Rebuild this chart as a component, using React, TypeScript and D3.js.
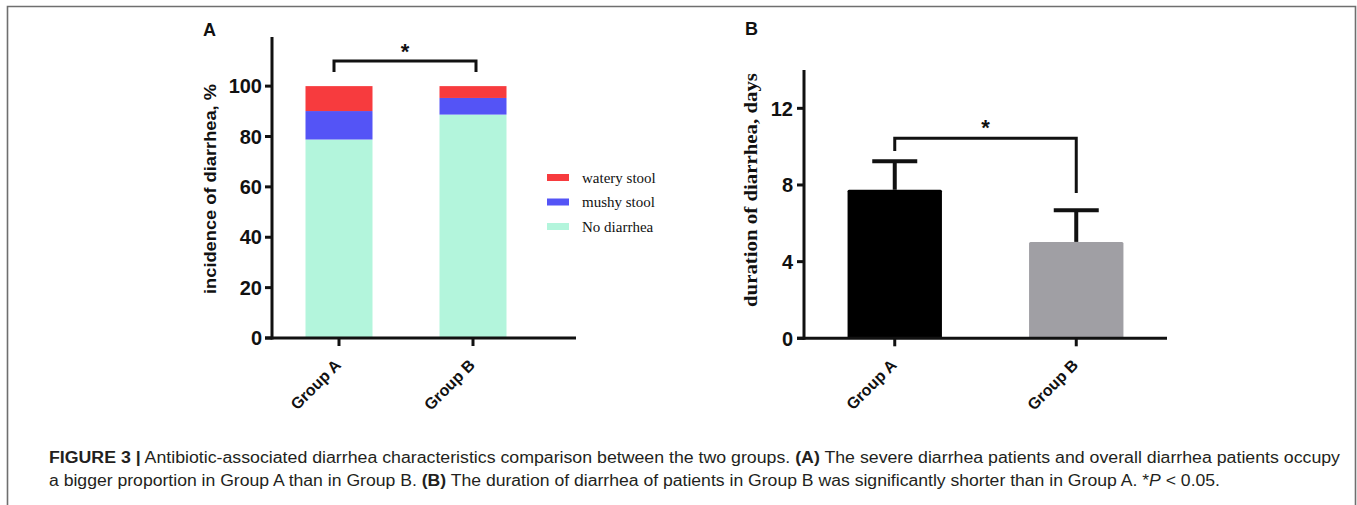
import React from 'react';
import * as d3 from 'd3';

// panel A: incidence of diarrhea (%), stacked
const groups = ['Group A', 'Group B'];
const noDiarrhea = [78.8, 88.7];
const mushyStool = [11.3, 6.6];
const wateryStool = [9.9, 4.7];
const incidenceTicks = [0, 20, 40, 60, 80, 100];

// panel B: duration of diarrhea (days), mean + SD
const durationMean = [7.75, 5.03];
const durationSD = [1.49, 1.65];
const durationTicks = [0, 4, 8, 12];

const legendItems = [
  { key: 'watery', label: 'watery stool', color: '#f73b3e' },
  { key: 'mushy', label: 'mushy stool', color: '#5454f6' },
  { key: 'none', label: 'No diarrhea', color: '#b3f5dc' },
];
const barColorsB = ['#000000', '#a09fa4'];

const SANS = '"Liberation Sans", Arial, Helvetica, sans-serif';
const SERIF = '"Liberation Serif", "Times New Roman", serif';

export default function App() {
  const W = 1357;
  const H = 505;

  const xA = d3.scaleBand().domain(groups).range([272, 540]).paddingInner(0.5).paddingOuter(0.25);
  const yA = d3.scaleLinear().domain([0, 119.5]).range([338, 37]);
  const xB = d3.scaleBand().domain(groups).range([804, 1167]).paddingInner(0.48).paddingOuter(0.24);
  const yB = d3.scaleLinear().domain([0, 14]).range([338.3, 70]);

  const rows = groups.map((g, i) => ({
    group: g,
    none: noDiarrhea[i],
    mushy: mushyStool[i],
    watery: wateryStool[i],
  }));
  const series = d3.stack<any>().keys(['none', 'mushy', 'watery'])(rows);
  const colorOf = (k: string) => legendItems.find(l => l.key === k)!.color;

  const cA = (g: string) => xA(g)! + xA.bandwidth() / 2;
  const cB = (g: string) => xB(g)! + xB.bandwidth() / 2;

  // significance brackets (in data units)
  const brA = { top: 110, leg: 105.6 };
  const brB = { top: 10.44, legL: 9.77, legR: 7.58 };

  const tickStyle = { fontFamily: SANS, fontWeight: 700, fontSize: 20, fill: '#111' } as const;

  return (
    <svg width={W} height={H} style={{ position: 'absolute', left: 0, top: 0, background: '#fff' }}>
      {/* frame */}
      <path d={`M7.5,${H} V6.5 H1355.5 V${H}`} fill="none" stroke="#6f6f6f" strokeWidth={1.6} />

      {/* ---------- panel A ---------- */}
      <text x={203} y={36} fontFamily={SANS} fontWeight={700} fontSize={18} fill="#111">A</text>

      {series.map(s => (
        <g key={s.key} fill={colorOf(s.key)}>
          {s.map((d, i) => (
            <rect key={i} x={xA(groups[i])} y={yA(d[1])} width={xA.bandwidth()} height={yA(d[0]) - yA(d[1])} />
          ))}
        </g>
      ))}

      <g stroke="#111" strokeWidth={3} fill="none">
        <line x1={272} x2={272} y1={yA.range()[1]} y2={yA(0) + 1.5} />
        <line x1={265} x2={576} y1={yA(0)} y2={yA(0)} />
        {incidenceTicks.map(t => (
          <line key={t} x1={265} x2={272} y1={yA(t)} y2={yA(t)} />
        ))}
        {groups.map(g => (
          <line key={g} x1={cA(g)} x2={cA(g)} y1={yA(0)} y2={yA(0) + 8} />
        ))}
        <path d={`M${cA(groups[0]) - 5},${yA(brA.leg)} V${yA(brA.top)} H${cA(groups[1]) + 3} V${yA(brA.leg)}`} />
      </g>
      {incidenceTicks.map(t => (
        <text key={t} x={262} y={yA(t)} dy="0.36em" textAnchor="end" {...tickStyle}>{t}</text>
      ))}
      <text x={(cA(groups[0]) + cA(groups[1])) / 2 - 1} y={59} textAnchor="middle" fontFamily={SANS} fontWeight={700} fontSize={22} fill="#111">*</text>
      {groups.map(g => (
        <text key={g} transform={`translate(${cA(g) + 3},366) rotate(-45)`} textAnchor="end"
          fontFamily={SANS} fontWeight={700} fontSize={16} fill="#111">{g}</text>
      ))}
      <text transform="translate(216,189) rotate(-90)" textAnchor="middle" fontFamily={SANS} fontWeight={700}
        fontSize={17} fill="#111" textLength={210} lengthAdjust="spacingAndGlyphs">incidence of diarrhea, %</text>

      {legendItems.map((l, i) => (
        <g key={l.key} transform={`translate(547,${174 + i * 24.5})`}>
          <rect width={22} height={7} fill={l.color} />
          <text x={35} y={8.5} fontFamily={SERIF} fontSize={15} fill="#111">{l.label}</text>
        </g>
      ))}

      {/* ---------- panel B ---------- */}
      <text x={745} y={35} fontFamily={SANS} fontWeight={700} fontSize={18} fill="#111">B</text>

      {groups.map((g, i) => (
        <rect key={g} x={xB(g)} y={yB(durationMean[i])} width={xB.bandwidth()} height={yB(0) - yB(durationMean[i])}
          fill={barColorsB[i]} rx={1.5} />
      ))}
      <g stroke="#111" strokeWidth={4} fill="none">
        {groups.map((g, i) => (
          <g key={g}>
            <line x1={cB(g)} x2={cB(g)} y1={yB(durationMean[i])} y2={yB(durationMean[i] + durationSD[i])} />
            <line x1={cB(g) - 22.5} x2={cB(g) + 22.5} y1={yB(durationMean[i] + durationSD[i])} y2={yB(durationMean[i] + durationSD[i])} />
          </g>
        ))}
      </g>
      <g stroke="#111" strokeWidth={3} fill="none">
        <line x1={804} x2={804} y1={yB.range()[1]} y2={yB(0) + 1.5} />
        <line x1={797} x2={1167} y1={yB(0)} y2={yB(0)} />
        {durationTicks.map(t => (
          <line key={t} x1={797} x2={804} y1={yB(t)} y2={yB(t)} />
        ))}
        {groups.map(g => (
          <line key={g} x1={cB(g)} x2={cB(g)} y1={yB(0)} y2={yB(0) + 8} />
        ))}
        <path d={`M${cB(groups[0])},${yB(brB.legL)} V${yB(brB.top)} H${cB(groups[1])} V${yB(brB.legR)}`} />
      </g>
      {durationTicks.map(t => (
        <text key={t} x={793} y={yB(t)} dy="0.36em" textAnchor="end" {...tickStyle}>{t}</text>
      ))}
      <text x={(cB(groups[0]) + cB(groups[1])) / 2} y={135} textAnchor="middle" fontFamily={SANS} fontWeight={700} fontSize={22} fill="#111">*</text>
      {groups.map(g => (
        <text key={g} transform={`translate(${cB(g) + 3},366) rotate(-45)`} textAnchor="end"
          fontFamily={SANS} fontWeight={700} fontSize={16} fill="#111">{g}</text>
      ))}
      <text transform="translate(757,190) rotate(-90)" textAnchor="middle" fontFamily={SERIF} fontWeight={700}
        fontSize={18} fill="#111" textLength={234} lengthAdjust="spacingAndGlyphs">duration of diarrhea, days</text>

      {/* ---------- caption ---------- */}
      <g fontFamily={SANS} fontSize={16} fill="#231f20">
        <text x={49} y={463} textLength={1291} lengthAdjust="spacingAndGlyphs">
          <tspan fontWeight={700}>FIGURE 3 |</tspan>
          <tspan> Antibiotic-associated diarrhea characteristics comparison between the two groups. </tspan>
          <tspan fontWeight={700}>(A)</tspan>
          <tspan> The severe diarrhea patients and overall diarrhea patients occupy</tspan>
        </text>
        <text x={49} y={486} textLength={1171} lengthAdjust="spacingAndGlyphs">
          <tspan>a bigger proportion in Group A than in Group B. </tspan>
          <tspan fontWeight={700}>(B)</tspan>
          <tspan> The duration of diarrhea of patients in Group B was significantly shorter than in Group A. *</tspan>
          <tspan fontStyle="italic">P</tspan>
          <tspan> &lt; 0.05.</tspan>
        </text>
      </g>
    </svg>
  );
}
